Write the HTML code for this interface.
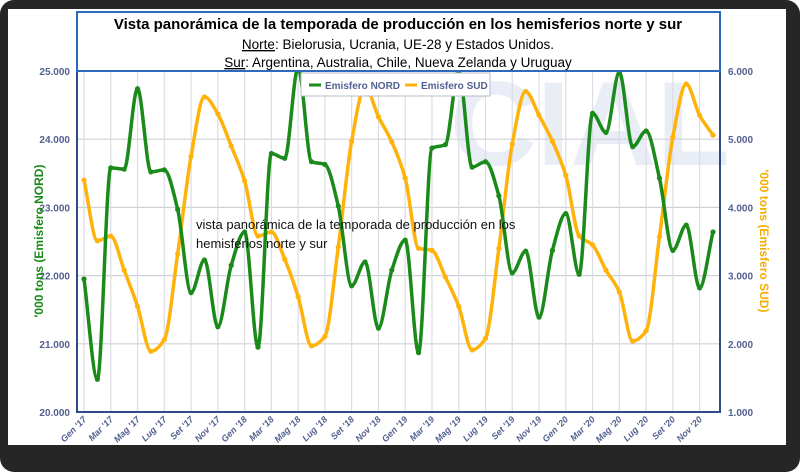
<!DOCTYPE html>
<html><head><meta charset="utf-8"><style>
body{margin:0;width:800px;height:472px;background:#fff;overflow:hidden;font-family:"Liberation Sans",sans-serif}
#frame{position:absolute;left:0;top:0;width:800px;height:472px;background:#262626;border-radius:14px}
#inner{position:absolute;left:8px;top:9px;width:778px;height:436px;background:#fff}
svg{position:absolute;left:0;top:0}
</style></head><body>
<div id="frame"></div>
<div id="inner"></div>
<svg id="chart" width="800" height="472"></svg>
<script>
const months=["Gen","Feb","Mar","Apr","Mag","Giu","Lug","Ago","Set","Ott","Nov","Dic"];
const years=["17","18","19","20"];
const nordValues=[21950,20480,23580,23560,24740,23520,23550,22970,21750,22230,21250,22150,
22640,20950,23790,23720,25050,23670,23630,23020,21850,22200,21230,22080,
22520,20870,23870,23920,25010,23590,23670,23170,22040,22360,21390,22370,
22910,22020,24380,24100,24980,23890,24120,23430,22370,22740,21820,22640];
const sudValues=[4400,3510,3580,3080,2550,1890,2060,3320,4750,5620,5370,4900,
4390,3580,3640,3240,2690,1970,2110,3420,4970,5770,5330,4960,
4430,3400,3370,2980,2550,1910,2080,3400,4930,5700,5350,4970,
4470,3580,3450,3080,2760,2040,2190,3570,5030,5810,5350,5060];
const leftTicks=[20000,21000,22000,23000,24000,25000];
const rightTicks=[1000,2000,3000,4000,5000,6000];
const categories=[];years.forEach(y=>months.forEach(m=>categories.push(m+" '"+y)));

const NS="http://www.w3.org/2000/svg";
const svg=document.getElementById('chart');
function mk(t,a,p){const e=document.createElementNS(NS,t);for(const k in a)e.setAttribute(k,a[k]);(p||svg).appendChild(e);return e;}
const L=77,R=720,T=71,B=412,x0=84,dx=(713-84)/47;
const xS=i=>x0+i*dx;
const yL=v=>B-(v-20000)/5000*(B-T);
const yR=v=>B-(v-1000)/5000*(B-T);

// watermark
let wm=mk('text',{x:590,y:165,'text-anchor':'middle','font-size':120,'font-weight':'bold',fill:'#e9edf6','font-family':'Liberation Sans, sans-serif'});
wm.textContent='CIAL';



// grid
leftTicks.forEach(v=>{const g=mk('line',{x1:L,x2:R,y1:yL(v),y2:yL(v),stroke:'#cfd2d8','stroke-width':1.2});

});
categories.forEach((c,i)=>{if(i%2)return;const g=mk('line',{x1:xS(i),x2:xS(i),y1:T,y2:B,stroke:'#dcdde2','stroke-width':1.2});

});

const ax=mk('path',{d:`M${L},${T} V${B} H${R} V${T}`,fill:'none',stroke:'#2d4a8a','stroke-width':2});



leftTicks.forEach(v=>{const t=mk('text',{x:70,y:yL(v)+4,'text-anchor':'end','font-size':10,'font-weight':'bold',fill:'#52618f'});
t.textContent=(v/1000).toFixed(3);

});
rightTicks.forEach(v=>{const t=mk('text',{x:728,y:yR(v)+4,'font-size':10,'font-weight':'bold',fill:'#52618f'});
t.textContent=(v/1000).toFixed(3);

});
categories.forEach((c,i)=>{if(i%2)return;const x=xS(i)+3,y=B+8;
const t=mk('text',{x:x,y:y,'text-anchor':'end','font-size':9,'font-weight':'bold','font-style':'italic',fill:'#52618f',transform:`rotate(-45 ${x} ${y})`});
t.textContent=c;

});

let at=mk('text',{x:43,y:241,'text-anchor':'middle','font-size':12,'font-weight':'bold',fill:'#1a8a1a',transform:'rotate(-90 43 241)'});
at.textContent="'000 tons (Emisfero NORD)";


at=mk('text',{x:760,y:241,'text-anchor':'middle','font-size':12,'font-weight':'bold',fill:'#f5ad00',transform:'rotate(90 760 241)'});
at.textContent="'000 tons (Emisfero SUD)";



// monotone cubic spline (no overshoot)
function spline(pts){const n=pts.length,s=[],m=[];
for(let i=0;i<n-1;i++)s.push((pts[i+1][1]-pts[i][1])/(pts[i+1][0]-pts[i][0]));
m[0]=s[0];m[n-1]=s[n-2];
for(let i=1;i<n-1;i++){if(s[i-1]*s[i]<=0)m[i]=0;else m[i]=2/(1/s[i-1]+1/s[i]);}
let d=`M${pts[0][0]},${pts[0][1]}`;
for(let i=0;i<n-1;i++){const h=(pts[i+1][0]-pts[i][0])/3;
d+=` C${pts[i][0]+h},${pts[i][1]+m[i]*h} ${pts[i+1][0]-h},${pts[i+1][1]-m[i+1]*h} ${pts[i+1][0]},${pts[i+1][1]}`;}return d;}
const clip=mk('clipPath',{id:'pc'});mk('rect',{x:L,y:T-4,width:R-L,height:B-T+4},clip);
function series(vals,ys,col,name){const pts=vals.map((v,i)=>[xS(i),ys(v)]);
const g=mk('g',{'clip-path':'url(#pc)'});


mk('path',{d:spline(pts),fill:'none',stroke:col,'stroke-width':3.5,'stroke-linejoin':'round'},g);
pts.forEach(p=>{const c=mk('circle',{cx:p[0],cy:p[1],r:2.6,fill:col},g);

});}
series(sudValues,yR,'#ffb20a','sud-series');
series(nordValues,yL,'#1a8a1a','nord-series');

const an=mk('text',{x:196,y:229,'font-size':13,fill:'#111'});an.textContent='vista panorámica de la temporada de producción en los';


const an2=mk('text',{x:196,y:248,'font-size':13,fill:'#111'});an2.textContent='hemisferios norte y sur';



const lg=mk('g',{});


mk('rect',{x:301,y:73,width:189,height:23,fill:'#fff',stroke:'#b8bccc','stroke-width':1},lg);
mk('line',{x1:309,x2:321,y1:85,y2:85,stroke:'#1a8a1a','stroke-width':3},lg);
let lt=mk('text',{x:325,y:89,'font-size':10,'font-weight':'bold',fill:'#52618f'},lg);lt.textContent='Emisfero NORD';


mk('line',{x1:405,x2:417,y1:85,y2:85,stroke:'#ffb20a','stroke-width':3},lg);
lt=mk('text',{x:421,y:89,'font-size':10,'font-weight':'bold',fill:'#52618f'},lg);lt.textContent='Emisfero SUD';



const tb=mk('g',{});


mk('rect',{x:77,y:12,width:643,height:59,fill:'#fff',stroke:'#2a6bbd','stroke-width':2},tb);
let tt=mk('text',{x:398,y:29,'text-anchor':'middle','font-size':15,'font-weight':'bold',fill:'#000'},tb);
tt.textContent='Vista panorámica de la temporada de producción en los hemisferios norte y sur';


tt=mk('text',{x:398,y:49,'text-anchor':'middle','font-size':13.5,fill:'#000'},tb);
tt.innerHTML='<tspan text-decoration="underline">Norte</tspan>: Bielorusia, Ucrania, UE-28 y Estados Unidos.';


tt=mk('text',{x:398,y:67,'text-anchor':'middle','font-size':13.5,fill:'#000'},tb);
tt.innerHTML='<tspan text-decoration="underline">Sur</tspan>: Argentina, Australia, Chile, Nueva Zelanda y Uruguay';


</script>
</body></html>
